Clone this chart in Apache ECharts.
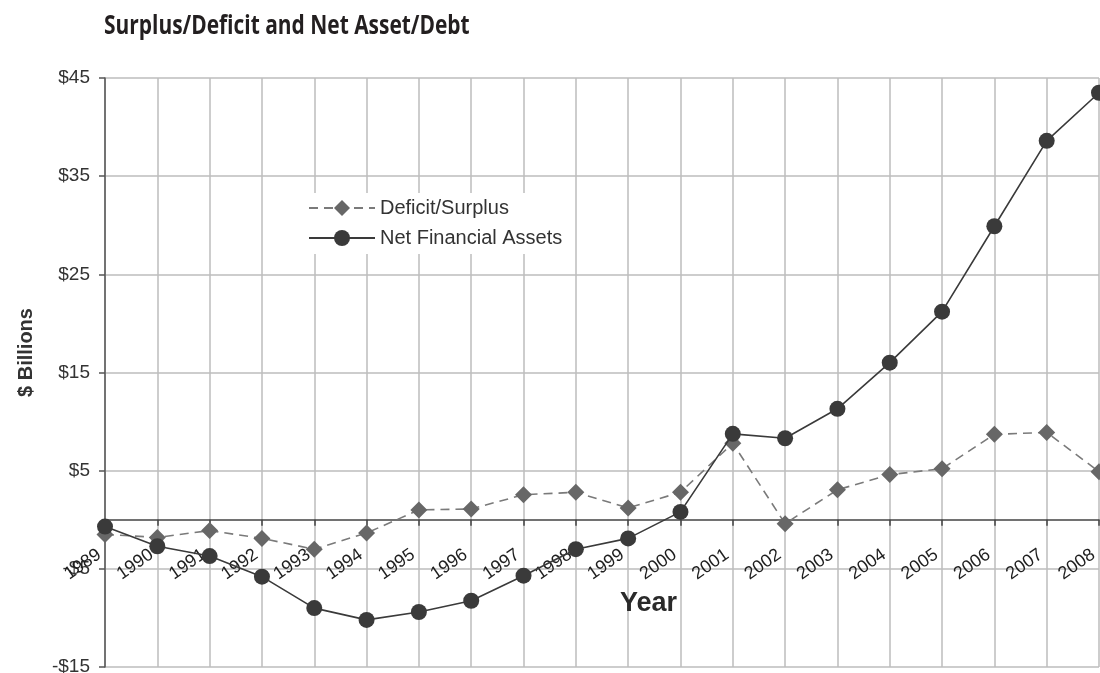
<!DOCTYPE html>
<html>
<head>
<meta charset="utf-8">
<script src="https://cdn.jsdelivr.net/npm/echarts@6/dist/echarts.min.js"></script>
<style>
html,body{margin:0;padding:0;background:#fff;}
#chart{width:1100px;height:673px;}
</style>
</head>
<body>
<div id="chart"></div>
<script>
const years = ['1989','1990','1991','1992','1993','1994','1995','1996','1997','1998','1999','2000','2001','2002','2003','2004','2005','2006','2007','2008'];
const deficitSurplus = [-1.5,-1.8,-1.1,-1.9,-3.0,-1.35,1.0,1.1,2.55,2.8,1.2,2.8,7.8,-0.4,3.05,4.6,5.2,8.7,8.9,4.9];
const netFinancialAssets = [-0.7,-2.7,-3.7,-5.8,-9.0,-10.2,-9.4,-8.25,-5.7,-3.0,-1.9,0.8,8.75,8.3,11.3,16.0,21.2,29.9,38.6,43.5];
const yMin = -15, yMax = 45, yStep = 10;
const titleText = 'Surplus/Deficit and Net Asset/Debt';

const chart = echarts.init(document.getElementById('chart'));
chart.setOption({
  animation: false,
  backgroundColor: '#ffffff',
  graphic: [{
    type: 'text',
    x: 104, y: 13,
    scaleX: 0.775, scaleY: 1,
    style: {
      text: titleText,
      fontFamily: 'Open Sans', fontWeight: 'bold', fontSize: 27,
      fill: '#231f20', textAlign: 'left', textVerticalAlign: 'top'
    }
  }],
  grid: {left: 105, right: 1, top: 78, bottom: 6, outerBoundsMode: 'none', containLabel: false},
  legend: {
    orient: 'vertical',
    left: 296, top: 193,
    padding: [5, 8, 6, 12],
    backgroundColor: '#ffffff',
    itemWidth: 66, itemHeight: 20,
    itemGap: 10,
    textStyle: {fontFamily: 'Liberation Sans', fontSize: 20, color: '#333333'},
    data: ['Deficit/Surplus', 'Net Financial Assets']
  },
  xAxis: {
    type: 'category',
    data: years,
    boundaryGap: false,
    name: 'Year',
    nameLocation: 'middle',
    nameGap: -77,
    nameTextStyle: {fontFamily: 'Liberation Sans', fontWeight: 'bold', fontSize: 27, color: '#2a2a2a', padding: [0,0,0,93]},
    axisLine: {onZero: true, lineStyle: {color: '#444444', width: 1.5}},
    axisTick: {show: true, inside: false, length: 6, alignWithLabel: true, lineStyle: {color: '#444444', width: 1.5}},
    axisLabel: {rotate: 35, margin: -118, padding: [0,7,0,0], fontFamily: 'Liberation Sans', fontSize: 18, color: '#1e1e1e', interval: 0},
    splitLine: {show: true, lineStyle: {color: '#bdbdbd', width: 1.5}}
  },
  yAxis: {
    type: 'value',
    min: yMin, max: yMax, interval: yStep,
    name: '$ Billions',
    nameLocation: 'middle',
    nameGap: 69,
    nameRotate: 90,
    nameTextStyle: {fontFamily: 'Liberation Sans', fontWeight: 'bold', fontSize: 20, color: '#333333', padding: [0,0,0,40]},
    axisLine: {show: true, onZero: false, lineStyle: {color: '#555555', width: 1.5}},
    axisTick: {show: true, length: 6, lineStyle: {color: '#555555', width: 1.5}},
    axisLabel: {
      margin: 15, fontFamily: 'Liberation Sans', fontSize: 19, color: '#333333',
      formatter: v => (v < 0 ? '-$' + Math.abs(v) : '$' + v)
    },
    splitLine: {show: true, lineStyle: {color: '#bdbdbd', width: 1.5}}
  },
  series: [
    {
      name: 'Deficit/Surplus',
      type: 'line',
      data: deficitSurplus,
      symbol: 'diamond',
      symbolSize: 17,
      itemStyle: {color: '#676767'},
      lineStyle: {color: '#7a7a7a', width: 1.6, type: [9, 6]},
      z: 3
    },
    {
      name: 'Net Financial Assets',
      type: 'line',
      data: netFinancialAssets,
      symbol: 'circle',
      symbolSize: 16,
      itemStyle: {color: '#3a3a3a'},
      lineStyle: {color: '#3a3a3a', width: 1.6},
      z: 4
    }
  ]
});
</script>
</body>
</html>
